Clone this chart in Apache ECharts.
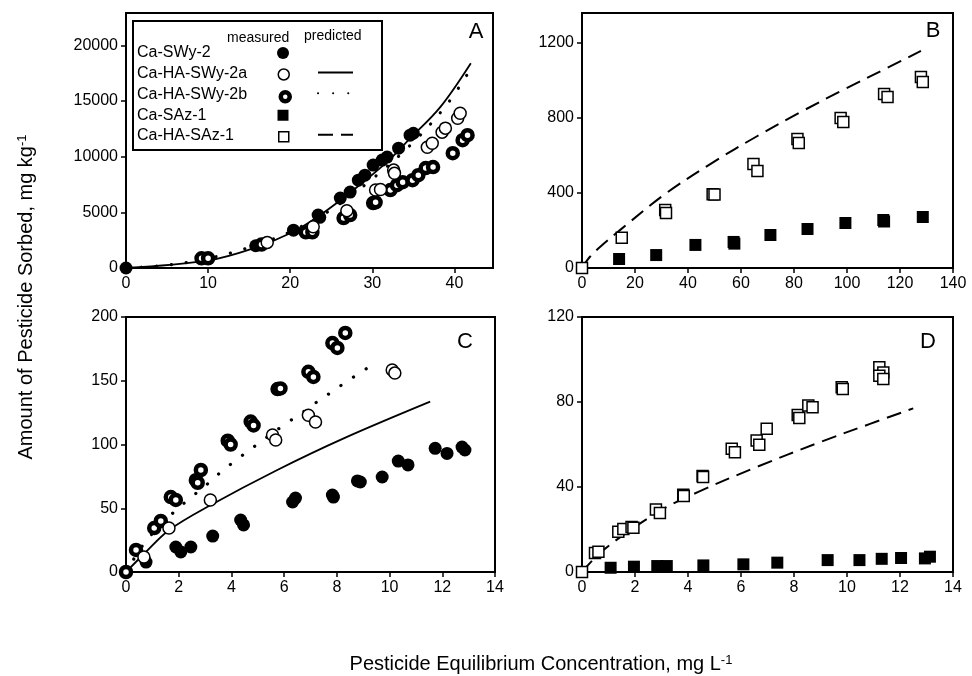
<!DOCTYPE html>
<html>
<head>
<meta charset="utf-8">
<script src="https://cdn.jsdelivr.net/npm/echarts@6/dist/echarts.min.js"></script>
<style>
  html, body { margin: 0; padding: 0; background: #fff; }
  #chart { width: 972px; height: 676px; }
</style>
</head>
<body>
<div id="chart"></div>
<script>
// ---- data: [concentration mg/L, sorbed mg/kg] ----
// panel A
const aSWy2 = [[0,0],[15.8,2000],[20.4,3400],[23.4,4750],[23.6,4550],[26.1,6280],[27.3,6820],[28.3,7890],[29.1,8340],[30.1,9240],[31.2,9690],[31.8,9960],[33.2,10760],[34.6,11930],[35,12100]]
const aHA2a = [[17.2,2300],[22.8,3700],[26.9,5150],[30.4,7000],[31,7050],[32.6,8790],[32.7,8500],[36.7,10850],[37.3,11200],[38.5,12200],[38.9,12560],[40.4,13450],[40.7,13900]]
const aHA2b = [[9.2,870],[10,870],[16.5,2100],[21.9,3200],[22.7,3200],[26.5,4480],[27.3,4750],[30.1,5830],[30.4,5900],[32.2,7000],[33,7440],[33.7,7710],[34.9,7890],[35.6,8340],[36.5,8970],[37.4,9060],[39.8,10310],[41,11480],[41.6,11930]]
const aPred2a = [[0,0],[9.84,655],[15.5,1770],[20.4,3260],[23.66,4750],[27.7,7000],[31.8,9530],[34.6,11630],[38.3,14470],[42,18390]]
const aPred2b = [[0,0],[5,250],[10,850],[15,1850],[20,3250],[25,5250],[30,8000],[35,11300],[39,14600],[41.5,17300]]
// panel B
const bSAz1 = [[14,48],[28,69],[42.8,123],[57.2,139],[57.5,130],[71.1,176],[85.1,208],[99.4,240],[113.7,256],[114,248],[128.6,272]]
const bHASAz1 = [[0,0],[15,162],[31.4,309],[31.7,293],[49.3,394],[50,392],[64.7,555],[66.2,517],[81.3,688],[81.8,667],[97.6,800],[98.6,779],[114,928],[115.3,912],[127.9,1019],[128.6,992]]
const bPred = [[0,0],[3,60],[7,115],[15,210],[31.4,395],[49.6,565],[66.2,704],[82.3,830],[98.8,952],[115.3,1068],[127.9,1158]]
// panel C
const cSWy2 = [[0.76,7.8],[1.89,19.6],[2.08,15.7],[2.46,19.6],[3.29,28.2],[4.35,40.8],[4.46,36.9],[6.32,54.9],[6.43,58],[7.83,60.4],[7.87,58.8],[8.78,71.4],[8.89,70.6],[9.72,74.5],[10.33,87],[10.7,84],[11.73,97],[12.18,93],[12.75,98],[12.86,95.7]]
const cHA2a = [[0.68,11.8],[1.63,34.5],[3.2,56.5],[5.56,107.5],[5.68,103.5],[6.92,123],[7.19,117.6],[10.1,158.4],[10.2,156]]
const cHA2b = [[0,0],[0.38,17.3],[1.07,34.5],[1.32,40],[1.7,58.8],[1.89,56.5],[2.65,72],[2.72,70],[2.84,80],[3.86,103],[3.97,100],[4.73,118],[4.84,115],[5.75,143.5],[5.86,144],[6.92,157],[7.11,153],[7.83,179.6],[8.02,175.7],[8.32,187.5]]
const cPred2a = [[0,0],[0.7,14.5],[1.64,32.9],[3.22,52.5],[5.74,80],[8.26,104.8],[11.54,133.6]]
const cPred2b = [[0,0],[0.76,24.3],[1.83,47.3],[2.46,58.3],[3.03,68],[3.59,78.2],[4.22,88.4],[4.83,97.8],[5.99,115.3],[6.62,124],[7.15,132],[7.76,140.6],[8.32,148.6],[8.92,156.8],[9.52,164.8]]
// panel D
const dSAz1 = [[1.08,2],[1.96,2.5],[2.84,2.8],[3.2,2.8],[4.58,3.1],[6.09,3.6],[7.37,4.4],[9.27,5.6],[10.47,5.6],[11.31,6.2],[12.04,6.6],[12.94,6.4],[13.13,7.2]]
const dHASAz1 = [[0,0],[0.49,9],[0.62,9.5],[1.37,18.9],[1.56,20.2],[1.87,21.2],[1.94,20.8],[2.79,29.4],[2.94,27.8],[3.82,36.4],[3.84,35.8],[4.55,45.2],[4.57,44.7],[5.65,58],[5.77,56.4],[6.59,61.9],[6.69,59.9],[6.97,67.4],[8.14,73.9],[8.2,72.5],[8.54,78.3],[8.7,77.5],[9.8,86.9],[9.84,86.1],[11.22,96.3],[11.37,93.9],[11.22,92.4],[11.37,90.8]]
const dPred = [[0,0],[0.8,10.3],[2.88,28.3],[4.39,37.7],[6.59,49.4],[8.98,61.1],[10.87,69.7],[12.5,77]]

const names = ['Ca-SWy-2', 'Ca-HA-SWy-2a', 'Ca-HA-SWy-2b', 'Ca-SAz-1', 'Ca-HA-SAz-1']
const predNames = ['Ca-HA-SWy-2a predicted', 'Ca-HA-SWy-2b predicted', 'Ca-HA-SAz-1 predicted']

const FONT = 'Liberation Sans, Arial, Helvetica, sans-serif'

// marker looks
const marks = {
  'Ca-SWy-2':     { symbol: 'circle', symbolSize: 13, itemStyle: { color: '#000', opacity: 1 } },
  'Ca-HA-SWy-2a': { symbol: 'circle', symbolSize: 12, itemStyle: { color: '#fff', borderColor: '#000', borderWidth: 1.5, opacity: 1 } },
  'Ca-HA-SWy-2b': { symbol: 'circle', symbolSize: 10, itemStyle: { color: '#fff', borderColor: '#000', borderWidth: 4.5, opacity: 1 } },
  'Ca-SAz-1':     { symbol: 'rect', symbolSize: 12, itemStyle: { color: '#000', opacity: 1 } },
  'Ca-HA-SAz-1':  { symbol: 'rect', symbolSize: 11, itemStyle: { color: '#fff', borderColor: '#000', borderWidth: 1.5, opacity: 1 } }
}
const lines = {
  'Ca-HA-SWy-2a predicted': { color: '#000', width: 1.8, type: 'solid' },
  'Ca-HA-SWy-2b predicted': { color: '#000', width: 3.2, type: [0.1, 15], cap: 'round' },
  'Ca-HA-SAz-1 predicted':  { color: '#000', width: 2, type: [15, 8] }
}

function sc(name, data, gi) {
  const m = marks[name]
  return { type: 'scatter', name, data, xAxisIndex: gi, yAxisIndex: gi, symbol: m.symbol,
    symbolSize: m.symbolSize, itemStyle: m.itemStyle, z: 3 }
}
function ln(name, data, gi) {
  return { type: 'line', name, data, xAxisIndex: gi, yAxisIndex: gi, showSymbol: false, symbol: 'none',
    smooth: 0.35, lineStyle: lines[name], itemStyle: { color: '#000' }, z: 2 }
}

const grids = [
  { left: 126, top: 13, width: 367, height: 255 },
  { left: 582, top: 13, width: 371, height: 255 },
  { left: 126, top: 317, width: 369, height: 255 },
  { left: 582, top: 317, width: 371, height: 255 }
].map(g => Object.assign({ show: true, borderColor: '#000', borderWidth: 2, backgroundColor: 'transparent' }, g))

function axis(gi, max, interval, hideMax) {
  return {
    type: 'value', gridIndex: gi, min: 0, max, interval,
    axisLine: { show: true, onZero: false, lineStyle: { color: '#000', width: 2 } },
    axisTick: { show: true, inside: false, length: 5, lineStyle: { color: '#000', width: 1.5 } },
    axisLabel: { color: '#000', fontFamily: FONT, fontSize: 16, margin: 8, showMaxLabel: !hideMax,
      formatter: v => String(v) },
    splitLine: { show: false }
  }
}

const chart = echarts.init(document.getElementById('chart'))

// legend: one small legend per row so rows sit exactly where the figure has them
const rowY = names.map((n, i) => 53 + i * 20.75)
const iconSize = { 'Ca-SWy-2': 12, 'Ca-HA-SWy-2a': 11, 'Ca-HA-SWy-2b': 9, 'Ca-SAz-1': 11, 'Ca-HA-SAz-1': 10 }
const legendBase = { orient: 'vertical', padding: 0, selectedMode: false, formatter: () => ' ',
  z: 10, textStyle: { fontSize: 1, lineHeight: 1 } }
const measuredLegends = names.map((n, i) => Object.assign({}, legendBase, {
  left: 283 - iconSize[n] / 2, top: rowY[i] - iconSize[n] / 2,
  itemWidth: iconSize[n], itemHeight: iconSize[n],
  data: [{ name: n, itemStyle: { borderWidth: marks[n].itemStyle.borderWidth || 0 } }]
}))
const predRows = [1, 2, 4]
const predictedLegends = predNames.map((n, i) => Object.assign({}, legendBase, {
  left: 317, top: rowY[predRows[i]] - 6.5, itemWidth: 35, itemHeight: 13,
  itemStyle: { opacity: 0 }, data: [n]
}))

function letter(t, x, y) {
  return { type: 'text', x, y, style: { text: t, fontFamily: FONT, fontSize: 22, fill: '#000',
    align: 'center', verticalAlign: 'middle' } }
}
function label(t, y) {
  return { type: 'text', x: 137, y, style: { text: t, fontFamily: FONT, fontSize: 16, fill: '#000',
    align: 'left', verticalAlign: 'middle' } }
}

const option = {
  animation: false,
  backgroundColor: '#fff',
  color: ['#000'],
  grid: grids,
  xAxis: [axis(0, 44.7, 10, true), axis(1, 140, 20, false), axis(2, 14, 2, false), axis(3, 14, 2, false)],
  yAxis: [axis(0, 22900, 5000, true), axis(1, 1360, 400, true), axis(2, 200, 50, false), axis(3, 120, 40, false)],
  legend: measuredLegends.concat(predictedLegends),
  graphic: [
    { type: 'rect', shape: { x: 133, y: 21, width: 249, height: 129 },
      style: { fill: 'transparent', stroke: '#000', lineWidth: 2 } },
    { type: 'text', x: 227, y: 38, style: { text: 'measured', fontFamily: FONT, fontSize: 14, fill: '#000', align: 'left', verticalAlign: 'middle' } },
    { type: 'text', x: 304, y: 36, style: { text: 'predicted', fontFamily: FONT, fontSize: 14, fill: '#000', align: 'left', verticalAlign: 'middle' } },
    ...names.map((n, i) => label(n, rowY[i])),
    letter('A', 476, 32), letter('B', 933, 31), letter('C', 465, 342), letter('D', 928, 342),
    { type: 'text', x: 26, y: 297, rotation: Math.PI / 2,
      style: { text: 'Amount of Pesticide Sorbed, mg kg{s|-1}', fontFamily: FONT, fontSize: 20, fill: '#000',
        align: 'center', verticalAlign: 'middle',
        rich: { s: { fontFamily: FONT, fontSize: 13, verticalAlign: 'top', fill: '#000' } } } },
    { type: 'text', x: 541, y: 664,
      style: { text: 'Pesticide Equilibrium Concentration, mg L{s|-1}', fontFamily: FONT, fontSize: 20, fill: '#000',
        align: 'center', verticalAlign: 'middle',
        rich: { s: { fontFamily: FONT, fontSize: 13, verticalAlign: 'top', fill: '#000' } } } }
  ],
  series: [
    ln(predNames[0], aPred2a, 0), ln(predNames[1], aPred2b, 0),
    sc('Ca-SWy-2', aSWy2, 0), sc('Ca-HA-SWy-2b', aHA2b, 0), sc('Ca-HA-SWy-2a', aHA2a, 0),
    ln(predNames[2], bPred, 1),
    sc('Ca-SAz-1', bSAz1, 1), sc('Ca-HA-SAz-1', bHASAz1, 1),
    ln(predNames[0], cPred2a, 2), ln(predNames[1], cPred2b, 2),
    sc('Ca-SWy-2', cSWy2, 2), sc('Ca-HA-SWy-2b', cHA2b, 2), sc('Ca-HA-SWy-2a', cHA2a, 2),
    ln(predNames[2], dPred, 3),
    sc('Ca-SAz-1', dSAz1, 3), sc('Ca-HA-SAz-1', dHASAz1, 3)
  ]
}
chart.setOption(option)
window.addEventListener('resize', () => chart.resize())
</script>
</body>
</html>
